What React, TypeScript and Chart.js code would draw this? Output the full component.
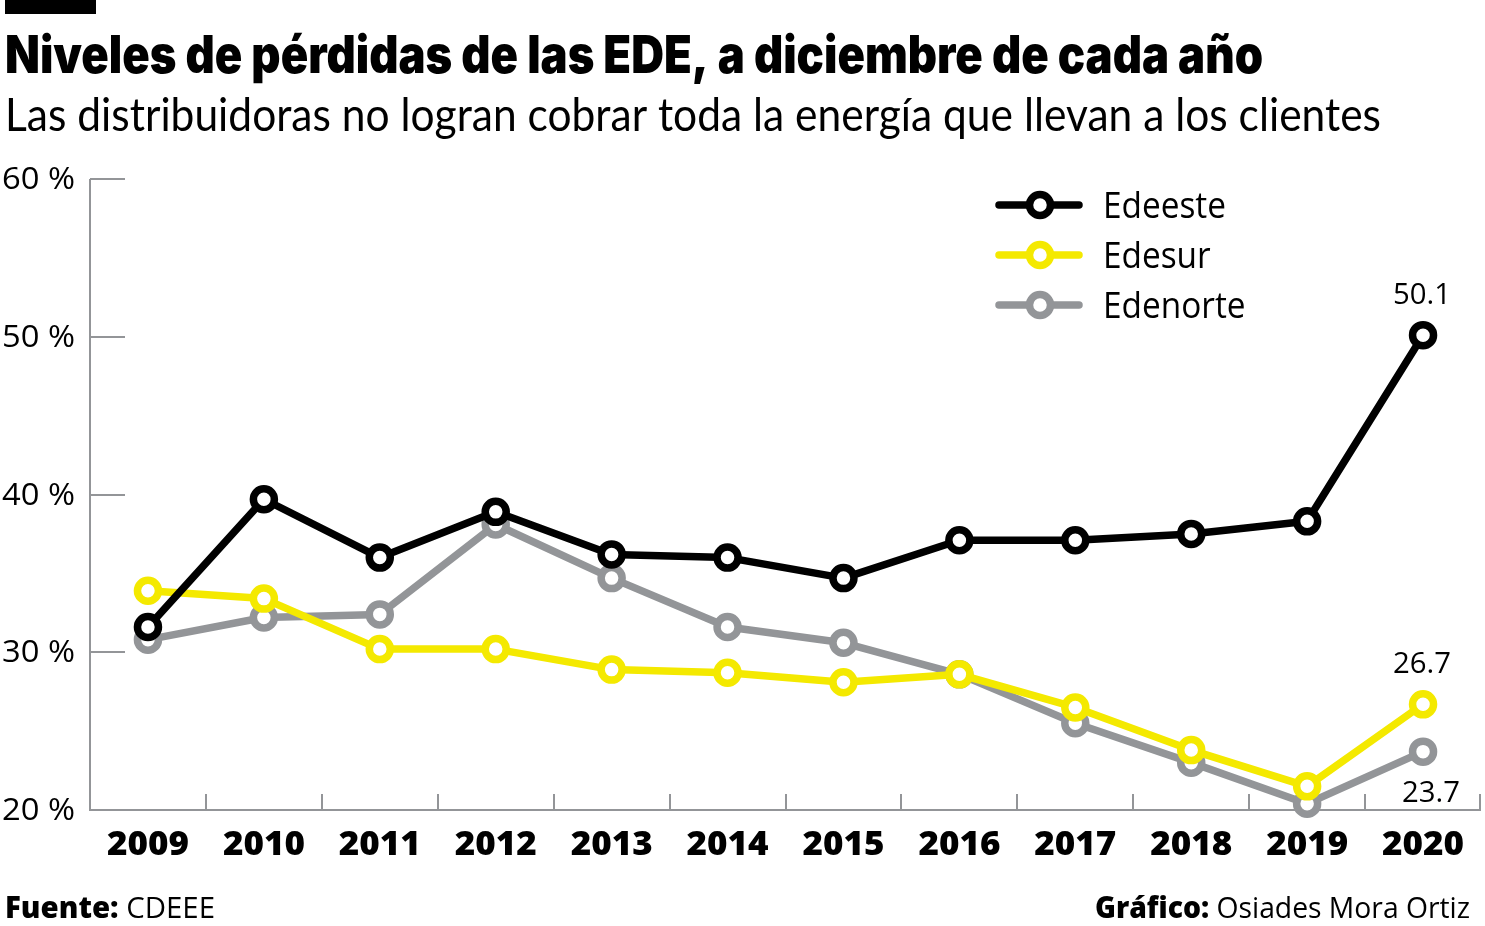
import React, { useEffect, useRef } from "react";
import { Chart, registerables } from "chart.js";

Chart.register(...registerables);

const years = ["2009", "2010", "2011", "2012", "2013", "2014", "2015", "2016", "2017", "2018", "2019", "2020"];
const edeeste = [31.6, 39.7, 36.0, 38.9, 36.2, 36.0, 34.7, 37.1, 37.1, 37.5, 38.3, 50.1];
const edesur = [33.9, 33.4, 30.2, 30.2, 28.9, 28.7, 28.1, 28.6, 26.5, 23.8, 21.5, 26.7];
const edenorte = [30.8, 32.2, 32.4, 38.1, 34.7, 31.6, 30.6, 28.6, 25.5, 23.0, 20.4, 23.7];
const seriesNames = ["Edeeste", "Edesur", "Edenorte"];
const seriesColors = ["#000000", "#f4e900", "#939598"];
const yTicks = [20, 30, 40, 50, 60];
const yTickLabels = ["20 %", "30 %", "40 %", "50 %", "60 %"];
const title = "Niveles de pérdidas de las EDE, a diciembre de cada año";
const subtitle = "Las distribuidoras no logran cobrar toda la energía que llevan a los clientes";
const sourceLabel = "Fuente:";
const sourceText = " CDEEE";
const creditLabel = "Gráfico:";
const creditText = " Osiades Mora Ortiz";

const AXIS = "#939598";

type Part = { text: string; font: string };

function measureParts(ctx: CanvasRenderingContext2D, parts: Part[]) {
  let w = 0;
  for (const p of parts) {
    ctx.font = p.font;
    w += ctx.measureText(p.text).width;
  }
  return w;
}

function drawParts(
  ctx: CanvasRenderingContext2D,
  parts: Part[],
  x: number,
  y: number,
  sx: number,
  align: "left" | "right" | "center",
  color = "#000"
) {
  const natural = measureParts(ctx, parts);
  const total = natural * sx;
  const start = align === "right" ? x - total : align === "center" ? x - total / 2 : x;
  ctx.save();
  ctx.textAlign = "left";
  ctx.textBaseline = "alphabetic";
  ctx.fillStyle = color;
  ctx.translate(start, y);
  ctx.scale(sx, 1);
  let cx = 0;
  for (const p of parts) {
    ctx.font = p.font;
    ctx.fillText(p.text, cx, 0);
    cx += ctx.measureText(p.text).width;
  }
  ctx.restore();
}

function fit(ctx: CanvasRenderingContext2D, parts: Part[], width: number) {
  return width / measureParts(ctx, parts);
}

const decorPlugin = {
  id: "decor",
  beforeDraw(chart: any) {
    const ctx: CanvasRenderingContext2D = chart.ctx;
    ctx.save();
    ctx.fillStyle = "#ffffff";
    ctx.fillRect(0, 0, chart.width, chart.height);
    ctx.fillStyle = "#000";
    ctx.fillRect(5, 0, 91, 14);

    const tParts = [{ text: title, font: "900 52px Inter" }];
    drawParts(ctx, tParts, 5, 73, fit(ctx, tParts, 1258), "left");
    const sParts = [{ text: subtitle, font: "400 46px Lato" }];
    drawParts(ctx, sParts, 5, 131, fit(ctx, sParts, 1376), "left");

    const fParts = [
      { text: sourceLabel, font: "800 30px 'Open Sans'" },
      { text: sourceText, font: "400 30px 'Open Sans'" },
    ];
    drawParts(ctx, fParts, 5, 918, fit(ctx, fParts, 210), "left");
    const gParts = [
      { text: creditLabel, font: "800 30px 'Open Sans'" },
      { text: creditText, font: "400 30px 'Open Sans'" },
    ];
    drawParts(ctx, gParts, 1470, 918, fit(ctx, gParts, 375), "right");
    ctx.restore();
  },
  beforeDatasetsDraw(chart: any) {
    const ctx: CanvasRenderingContext2D = chart.ctx;
    const xs = chart.scales.x;
    const ys = chart.scales.y;
    const { left, right, top, bottom } = chart.chartArea;
    ctx.save();
    ctx.strokeStyle = AXIS;
    ctx.lineWidth = 2;
    ctx.lineCap = "butt";
    ctx.beginPath();
    ctx.moveTo(left, top);
    ctx.lineTo(left, bottom + 1);
    ctx.stroke();
    for (const v of yTicks) {
      if (v === yTicks[0]) continue;
      const py = Math.round(ys.getPixelForValue(v));
      ctx.beginPath();
      ctx.moveTo(left, py);
      ctx.lineTo(left + 35, py);
      ctx.stroke();
    }
    ctx.beginPath();
    ctx.moveTo(left - 1, bottom);
    ctx.lineTo(right, bottom);
    ctx.stroke();
    const n = years.length;
    const step = (xs.getPixelForValue(n - 1) - xs.getPixelForValue(0)) / (n - 1);
    for (let k = 1; k <= n; k++) {
      const px = Math.round(xs.getPixelForValue(k - 1) + step / 2) - (k === n ? 1 : 0);
      ctx.beginPath();
      ctx.moveTo(px, bottom);
      ctx.lineTo(px, bottom - 16);
      ctx.stroke();
    }
    const yFont = "400 31px 'Open Sans'";
    const ySx = fit(ctx, [{ text: "60 %", font: yFont }], 73);
    yTicks.forEach((v, i) => {
      const py = ys.getPixelForValue(v);
      drawParts(ctx, [{ text: yTickLabels[i], font: yFont }], 75, py + 10, ySx, "right");
    });
    const xFont = "800 33px 'Open Sans'";
    const xSx = fit(ctx, [{ text: "2009", font: xFont }], 82);
    years.forEach((yr, i) => {
      const px = xs.getPixelForValue(i);
      drawParts(ctx, [{ text: yr, font: xFont }], px, 855, xSx, "center");
    });
    ctx.restore();
  },
  afterDatasetsDraw(chart: any) {
    const ctx: CanvasRenderingContext2D = chart.ctx;
    const xs = chart.scales.x;
    const ys = chart.scales.y;
    ctx.save();
    const lFont = "400 37px 'Open Sans'";
    const lSx = fit(ctx, [{ text: "Edeeste", font: lFont }], 123);
    seriesNames.forEach((name, i) => {
      const ly = 205 + i * 50;
      ctx.strokeStyle = seriesColors[i];
      ctx.lineWidth = 7.5;
      ctx.lineCap = "round";
      ctx.beginPath();
      ctx.moveTo(999, ly);
      ctx.lineTo(1079, ly);
      ctx.stroke();
      ctx.beginPath();
      ctx.arc(1040, ly, 10.5, 0, Math.PI * 2);
      ctx.fillStyle = "#fff";
      ctx.fill();
      ctx.stroke();
      drawParts(ctx, [{ text: name, font: lFont }], 1103, ly + 13, lSx, "left");
    });
    const eFont = "400 29px 'Open Sans'";
    const eSx = fit(ctx, [{ text: "26.7", font: eFont }], 58);
    const last = years.length - 1;
    const px = xs.getPixelForValue(last);
    const vals = [edeeste[last], edesur[last], edenorte[last]];
    drawParts(ctx, [{ text: vals[0].toFixed(1), font: eFont }], px - 1, ys.getPixelForValue(vals[0]) - 31, eSx, "center");
    drawParts(ctx, [{ text: vals[1].toFixed(1), font: eFont }], px - 1, ys.getPixelForValue(vals[1]) - 31, eSx, "center");
    drawParts(ctx, [{ text: vals[2].toFixed(1), font: eFont }], px + 8, ys.getPixelForValue(vals[2]) + 50, eSx, "center");
    ctx.restore();
  },
};

export default function App() {
  const ref = useRef<HTMLCanvasElement | null>(null);
  useEffect(() => {
    document.body.style.margin = "0";
    const canvas = ref.current;
    if (!canvas) return;
    const mk = (label: string, data: number[], color: string) => ({
      label,
      data,
      borderColor: color,
      backgroundColor: color,
      borderWidth: 7.5,
      pointRadius: 10.5,
      pointHoverRadius: 10.5,
      pointBorderWidth: 7.5,
      pointBorderColor: color,
      pointBackgroundColor: "#ffffff",
      tension: 0,
      fill: false,
      clip: false as any,
      borderJoinStyle: "round" as const,
    });
    const chart = new Chart(canvas, {
      type: "line",
      data: {
        labels: years,
        datasets: [
          mk(seriesNames[0], edeeste, seriesColors[0]),
          mk(seriesNames[1], edesur, seriesColors[1]),
          mk(seriesNames[2], edenorte, seriesColors[2]),
        ],
      },
      options: {
        responsive: false,
        animation: false,
        devicePixelRatio: 1,
        layout: { autoPadding: false, padding: { left: 90, right: 4, top: 179, bottom: 116 } },
        plugins: {
          legend: { display: false },
          tooltip: { enabled: false },
          title: { display: false },
        },
        events: [],
        scales: {
          x: { type: "category", offset: true, display: false },
          y: { type: "linear", min: 20, max: 60, display: false },
        },
      },
      plugins: [decorPlugin],
    });
    return () => chart.destroy();
  }, []);
  return (
    <div style={{ position: "absolute", left: 0, top: 0, width: 1485, height: 926, background: "#fff" }}>
      <canvas ref={ref} width={1485} height={926} style={{ width: 1485, height: 926, display: "block" }} />
    </div>
  );
}
